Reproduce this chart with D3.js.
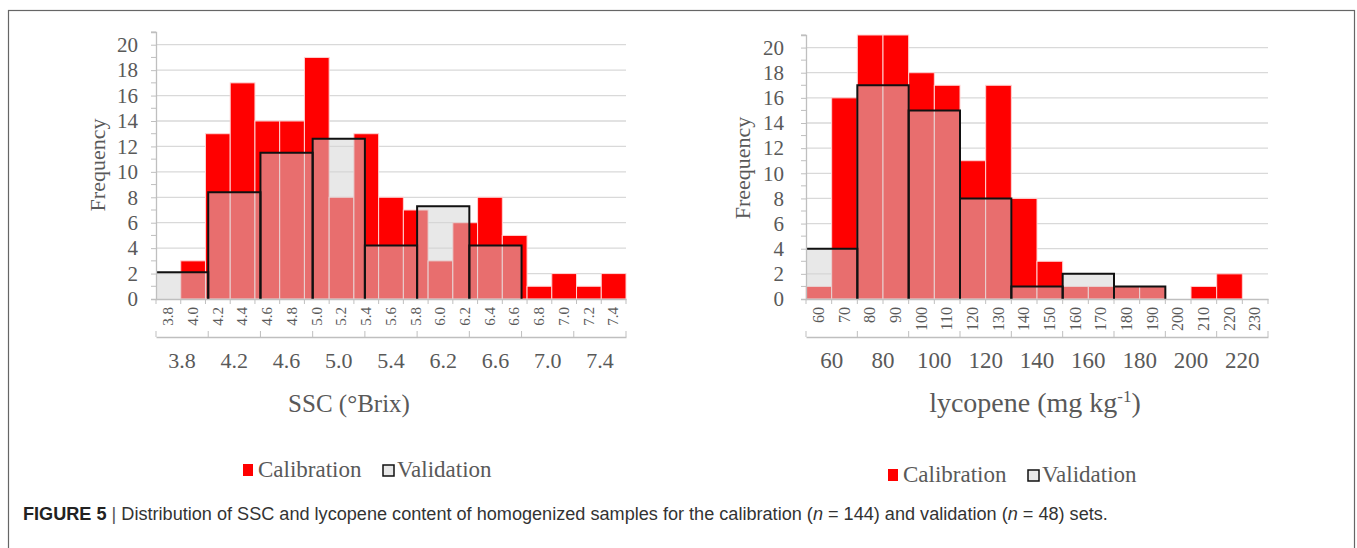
<!DOCTYPE html>
<html lang="en">
<head>
  <meta charset="UTF-8">
  <title>Figure 5 - SSC and lycopene distribution</title>
  <style>
    body { margin: 0; background: #fff; }
    svg { display: block; }
    .serif { font-family: "Liberation Serif", "Times New Roman", serif; fill: #595959; }
  </style>
</head>
<body>
  <svg id="fig" width="1357" height="548"></svg>

  <script src="https://d3js.org/d3.v7.min.js"></script>
  <script>
    // SSC panel
    const sscBins = ["3.8","4.0","4.2","4.4","4.6","4.8","5.0","5.2","5.4","5.6","5.8","6.0","6.2","6.4","6.6","6.8","7.0","7.2","7.4"];
    const sscCalibration = [0, 3, 13, 17, 14, 14, 19, 8, 13, 8, 7, 3, 6, 8, 5, 1, 2, 1, 2];
    const sscGroups = ["3.8","4.2","4.6","5.0","5.4","6.2","6.6","7.0","7.4"];
    const sscValidation = [2.1, 8.4, 11.5, 12.6, 4.2, 7.3, 4.2, 0, 0];

    // lycopene panel
    const lycBins = ["60","70","80","90","100","110","120","130","140","150","160","170","180","190","200","210","220","230"];
    const lycCalibration = [1, 16, 21, 21, 18, 17, 11, 17, 8, 3, 1, 1, 1, 1, 0, 1, 2, 0];
    const lycGroups = ["60","80","100","120","140","160","180","200","220"];
    const lycValidation = [4, 17, 15, 8, 1, 2, 1, 0, 0];

    const yTicks = d3.range(0, 21, 2);
    const legendLabels = ["Calibration", "Validation"];

    const svg = d3.select("#fig");

    // figure frame
    svg.append("rect")
      .attr("x", 8.5).attr("y", 10.5)
      .attr("width", 1346).attr("height", 600)
      .attr("fill", "none").attr("stroke", "#666").attr("stroke-width", 1.2);

    function drawPanel(p) {
      const g = svg.append("g");
      const x = d3.scaleBand().domain(p.bins).range([p.left, p.right]).paddingInner(0);
      const xg = d3.scaleBand().domain(p.groups).range([p.left, p.right]).paddingInner(0);
      const y = d3.scaleLinear().domain([0, 21]).range([299, p.top]);

      // gridlines
      g.append("g").selectAll("line")
        .data(yTicks.filter(d => d > 0))
        .join("line")
        .attr("x1", p.left).attr("x2", p.right)
        .attr("y1", d => y(d)).attr("y2", d => y(d))
        .attr("stroke", "#d9d9d9").attr("stroke-width", 1.3);

      // calibration bars
      g.append("g").selectAll("rect")
        .data(p.bins.map((b, i) => ({ b, v: p.cal[i] })).filter(d => d.v > 0))
        .join("rect")
        .attr("x", d => x(d.b))
        .attr("y", d => y(d.v))
        .attr("width", x.bandwidth())
        .attr("height", d => y(0) - y(d.v))
        .attr("fill", "#ff0000")
        .attr("stroke", "#ffd2d2").attr("stroke-width", 1);

      // validation bars (semi transparent, drawn on top)
      const val = p.groups.map((gname, i) => ({ gname, v: p.val[i], i })).filter(d => d.v > 0);
      g.append("g").selectAll("rect")
        .data(val)
        .join("rect")
        .attr("x", d => xg(d.gname))
        .attr("y", d => y(d.v))
        .attr("width", xg.bandwidth())
        .attr("height", d => y(0) - y(d.v))
        .attr("fill", "rgba(210,210,210,0.52)");
      g.append("g").selectAll("path")
        .data(val)
        .join("path")
        .attr("d", d => {
          const x0 = xg(d.gname), x1 = x0 + xg.bandwidth(), yv = y(d.v), yb = y(0);
          return (d.i === 0 ? `M${x0},${yv}` : `M${x0},${yb}L${x0},${yv}`) + `L${x1},${yv}L${x1},${yb}`;
        })
        .attr("fill", "none").attr("stroke", "#111").attr("stroke-width", 2);

      // y axis
      const yAxis = g.append("g")
        .attr("transform", `translate(${p.left},0)`)
        .call(d3.axisLeft(y).tickValues(yTicks).tickSize(5).tickPadding(p.yPad));
      yAxis.select(".domain").attr("stroke", "#bfbfbf").attr("stroke-width", 1.3);
      yAxis.selectAll(".tick line").attr("stroke", "#bfbfbf");
      yAxis.selectAll(".tick text").attr("class", "serif").style("font-size", "21px");
      g.append("g").selectAll("line")
        .data(d3.range(1, 22, 2))
        .join("line")
        .attr("x1", p.left - 5).attr("x2", p.left)
        .attr("y1", d => y(d)).attr("y2", d => y(d))
        .attr("stroke", "#bfbfbf");

      // x axis: bins (rotated labels)
      const xAxis = g.append("g")
        .attr("transform", "translate(0,299)")
        .call(d3.axisBottom(x).tickSize(0).tickPadding(0));
      xAxis.select(".domain").attr("stroke", "#bfbfbf").attr("stroke-width", 1.3);
      xAxis.selectAll(".tick text")
        .attr("class", "serif")
        .style("font-size", p.binFont + "px")
        .attr("text-anchor", "end")
        .attr("dy", "0.32em")
        .attr("transform", "translate(0,8) rotate(-90)")
        .attr("y", 0).attr("x", 0);
      g.append("g").selectAll("line")
        .data(d3.range(p.bins.length + 1))
        .join("line")
        .attr("x1", i => p.left + i * x.step()).attr("x2", i => p.left + i * x.step())
        .attr("y1", 299).attr("y2", 304)
        .attr("stroke", "#bfbfbf");

      // x axis: groups
      const gAxis = g.append("g")
        .attr("transform", "translate(0,337)")
        .call(d3.axisBottom(xg).tickSize(0).tickPadding(0));
      gAxis.select(".domain").attr("stroke", "#bfbfbf").attr("stroke-width", 1.3);
      gAxis.selectAll(".tick text")
        .attr("class", "serif")
        .style("font-size", p.groupFont + "px")
        .attr("y", 31).attr("dy", 0);
      g.append("g").selectAll("line")
        .data(d3.range(p.groups.length + 1))
        .join("line")
        .attr("x1", i => p.left + i * xg.step()).attr("x2", i => p.left + i * xg.step())
        .attr("y1", 331).attr("y2", 337)
        .attr("stroke", "#bfbfbf");

      // axis titles
      g.append("text")
        .attr("class", "serif")
        .attr("transform", `translate(${p.yTitleX},${p.yTitleY}) rotate(-90)`)
        .attr("text-anchor", "middle").attr("dy", "0.35em")
        .style("font-size", "22px")
        .text(p.yTitle);
      const xt = g.append("text")
        .attr("class", "serif")
        .attr("x", p.xTitleX).attr("y", 412)
        .attr("text-anchor", "middle")
        .style("font-size", p.titleFont + "px");
      p.xTitle(xt);

      // legend
      const lg = g.append("g").attr("transform", `translate(${p.legX},${p.legY})`);
      lg.append("rect").attr("x", 0).attr("y", -13).attr("width", 10).attr("height", 12)
        .attr("fill", "#ff0000");
      lg.append("text").attr("class", "serif").attr("x", 15).attr("y", 0)
        .style("font-size", "23px").text(legendLabels[0]);
      lg.append("rect").attr("x", p.legGap + 1).attr("y", -12).attr("width", 11).attr("height", 11)
        .attr("fill", "#e8e8e8").attr("stroke", "#111").attr("stroke-width", 1.5);
      lg.append("text").attr("class", "serif").attr("x", p.legGap + 15).attr("y", 0)
        .style("font-size", "23px").text(legendLabels[1]);
    }

    drawPanel({
      bins: sscBins, cal: sscCalibration, groups: sscGroups, val: sscValidation,
      left: 156, right: 626, top: 32, yPad: 13, binFont: 15, groupFont: 22, titleFont: 25,
      yTitle: "Frequency", yTitleX: 97, yTitleY: 165,
      xTitleX: 349,
      xTitle: t => t.text("SSC (°Brix)"),
      legX: 243, legY: 477, legGap: 139
    });

    drawPanel({
      bins: lycBins, cal: lycCalibration, groups: lycGroups, val: lycValidation,
      left: 806, right: 1268, top: 35, yPad: 17, binFont: 16, groupFont: 23, titleFont: 28,
      yTitle: "Freequency", yTitleX: 742, yTitleY: 168,
      xTitleX: 1035,
      xTitle: t => {
        t.append("tspan").text("lycopene (mg kg");
        t.append("tspan").attr("dy", -10).style("font-size", "17px").text("-1");
        t.append("tspan").attr("dy", 10).text(")");
      },
      legX: 888, legY: 482, legGap: 139
    });

    // caption
    const cap = svg.append("text")
      .attr("x", 23).attr("y", 520)
      .style("font-family", "'Liberation Sans', Arial, sans-serif")
      .style("font-size", "15px")
      .attr("fill", "#333");
    cap.append("tspan").style("font-weight", "bold").attr("fill", "#222").text("FIGURE 5");
    cap.append("tspan").attr("fill", "#555").text(" | ");
    cap.append("tspan").text("Distribution of SSC and lycopene content of homogenized samples for the calibration (");
    cap.append("tspan").style("font-style", "italic").text("n");
    cap.append("tspan").text(" = 144) and validation (");
    cap.append("tspan").style("font-style", "italic").text("n");
    cap.append("tspan").text(" = 48) sets.");
    const w = cap.node().getComputedTextLength();
    cap.style("font-size", (15 * 1085 / w).toFixed(2) + "px");
  </script>
</body>
</html>
